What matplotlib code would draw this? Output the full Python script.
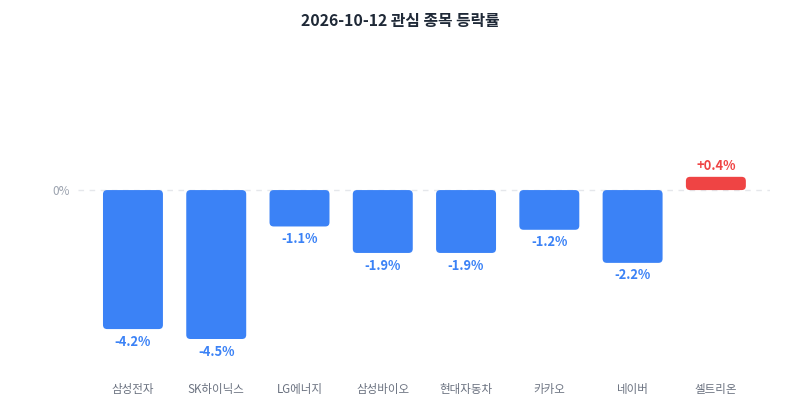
import matplotlib
matplotlib.use("Agg")
import matplotlib.pyplot as plt
from matplotlib.patches import FancyBboxPatch

plt.rcParams['font.family'] = ['Noto Sans CJK KR', 'DejaVu Sans']

# 데이터
title = "2026-10-12 관심 종목 등락률"
names = ["삼성전자", "SK하이닉스", "LG에너지", "삼성바이오", "현대자동차", "카카오", "네이버", "셀트리온"]
changes = [-4.2, -4.5, -1.1, -1.9, -1.9, -1.2, -2.2, 0.4]

blue = "#3b82f6"
red = "#ef4444"

fig = plt.figure(figsize=(8, 4), dpi=100)
# 축 위치 (픽셀 기준으로 맞춤)
ax = fig.add_axes([78 / 800, 1 - 339 / 400, 692 / 800, (339 - 60) / 400])

x = list(range(len(names)))
colors = [red if v > 0 else blue for v in changes]
bars = ax.bar(x, changes, width=0.72, color=colors)

ax.set_xlim(-0.66, 7.65)
ax.set_ylim(-4.5, 3.93)

# 모서리 둥글게 (음수 높이는 정리해서 다시 그림)
aspect = 83.3 / 33.1
for b, c in zip(bars, colors):
    bx, by = b.get_x(), b.get_y()
    bw, bh = b.get_width(), b.get_height()
    y0 = min(by, by + bh)
    b.remove()
    ax.add_patch(FancyBboxPatch((bx, y0), bw, abs(bh),
                                boxstyle="round,pad=0,rounding_size=0.05",
                                mutation_aspect=aspect, fc=c, ec="none", zorder=3))

# 0 기준선
ax.axhline(0, color="#e5e7eb", lw=1, ls=(0, (4, 4)), zorder=1)

# 값 라벨
for xi, v, c in zip(x, changes, colors):
    if v >= 0:
        ax.annotate(f"+{v:.1f}%", (xi, v), xytext=(0, 3), textcoords="offset points",
                    ha="center", va="bottom", fontsize=9.3, fontweight="bold", color=c)
    else:
        ax.annotate(f"{v:.1f}%", (xi, v), xytext=(0, -4), textcoords="offset points",
                    ha="center", va="top", fontsize=9.3, fontweight="bold", color=c)

ax.set_yticks([0])
ax.set_yticklabels(["0%"], fontsize=8.5, color="#9ca3af")
ax.set_xticks(x)
ax.set_xticklabels(names, fontsize=8.3, color="#6b7280")
ax.tick_params(axis="both", length=0)
ax.tick_params(axis="x", pad=32)
ax.tick_params(axis="y", pad=6)
for s in ax.spines.values():
    s.set_visible(False)

fig.suptitle(title, y=0.967, fontsize=11.4, fontweight="bold", color="#1f2937")

fig.savefig("out.png", dpi=100)
